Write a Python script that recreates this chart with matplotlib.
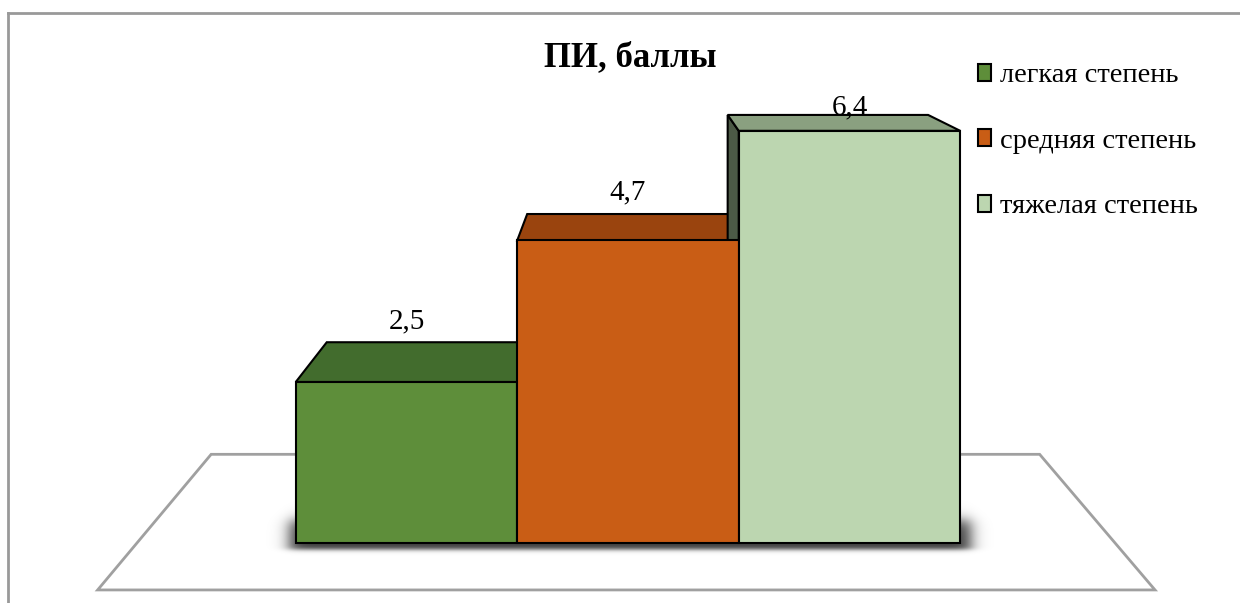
import numpy as np
import matplotlib
matplotlib.use("Agg")
import matplotlib.pyplot as plt
from matplotlib.patches import Polygon, Patch
from matplotlib.lines import Line2D

plt.rcParams["font.family"] = ["Liberation Serif", "DejaVu Serif"]

title = "ПИ, баллы"
categories = ["легкая степень", "средняя степень", "тяжелая степень"]
values = [2.5, 4.7, 6.4]
labels = ["2,5", "4,7", "6,4"]

front_colors = ["#5E8E3A", "#C95D15", "#BCD6B0"]
top_colors = ["#426C2D", "#9A440E", "#8AA080"]
side_colors = ["#2F4E20", "#6E300A", "#4C5A46"]

# pseudo-3D view settings (in data units)
vp = np.array([0.973, 9.0])   # vanishing point
depth = 0.905                 # scale of the back face
floor_front, floor_back = 1.081, 0.847
floor_x = (-1.217, 3.199)


def back(x, y, s=depth):
    return vp[0] + s * (x - vp[0]), vp[1] + s * (y - vp[1])


fig = plt.figure(figsize=(12.4, 6.03), dpi=100)
ax = fig.add_axes([0, 0, 1, 1])
ax.set_xlim(-406.5 / 221.5, (1240 - 406.5) / 221.5)
ax.set_ylim(-(603 - 543) / 64.4, 543 / 64.4)
ax.axis("off")

# chart area border (cut off at right and bottom)
fig.add_artist(Line2D([8 / 1240, 1], [1 - 13 / 603, 1 - 13 / 603],
                      transform=fig.transFigure, color="#999999", lw=2))
fig.add_artist(Line2D([8 / 1240, 8 / 1240], [0, 1 - 13 / 603],
                      transform=fig.transFigure, color="#999999", lw=2))

# floor
x0, x1 = floor_x
floor = [back(x0, 0, floor_front), back(x1, 0, floor_front),
         back(x1, 0, floor_back), back(x0, 0, floor_back)]
ax.add_patch(Polygon(floor, closed=True, facecolor="white",
                     edgecolor="#A0A0A0", lw=2, zorder=1))

# soft shadow under the bars
left = -0.5 - 0.03
right = len(values) - 0.5 + 0.05
gx = np.linspace(-0.8, 2.9, 600)
gy = np.linspace(-0.4, 0.8, 200)
X, Y = np.meshgrid(gx, gy)
fx = 0.5 * (np.tanh((X - left) / 0.04) - np.tanh((X - right) / 0.04))
fy = 0.5 * (np.tanh((Y + 0.1) / 0.04) - np.tanh((Y - 0.35) / 0.12))
alpha = 0.75 * fx * fy
img = np.zeros((len(gy), len(gx), 4))
img[..., 3] = alpha
ax.imshow(img, extent=(gx[0], gx[-1], gy[0], gy[-1]), origin="lower",
          aspect="auto", zorder=2, interpolation="bilinear")

xs = np.arange(len(values))
w = 1.0
# top and side faces
for i, v in enumerate(values):
    xl, xr = xs[i] - w / 2, xs[i] + w / 2
    if xl > vp[0]:
        side = [(xl, 0), (xl, v), back(xl, v), back(xl, 0)]
        ax.add_patch(Polygon(side, closed=True, facecolor=side_colors[i],
                             edgecolor="black", lw=1.5, zorder=3 + i))
    if xr < vp[0]:
        side = [(xr, 0), (xr, v), back(xr, v), back(xr, 0)]
        ax.add_patch(Polygon(side, closed=True, facecolor=side_colors[i],
                             edgecolor="black", lw=1.5, zorder=3 + i))
    top = [(xl, v), (xr, v), back(xr, v), back(xl, v)]
    ax.add_patch(Polygon(top, closed=True, facecolor=top_colors[i],
                         edgecolor="black", lw=1.5, zorder=3 + i))

# front faces
ax.bar(xs, values, width=w, color=front_colors, edgecolor="black",
       linewidth=1.5, zorder=10)

# value labels
for i, v in enumerate(values):
    ty = min(back(xs[i], v)[1] + 0.22, 6.66)
    ax.text(xs[i], ty, labels[i], ha="center", va="baseline",
            fontsize=21, zorder=11)

fig.text(630 / 1240, 1 - 66 / 603, title, ha="center", va="baseline",
         fontsize=25, fontweight="bold")

handles = [Patch(facecolor=c, edgecolor="black", lw=1.5) for c in front_colors]
fig.legend(handles, categories, loc="upper left",
           bbox_to_anchor=(967 / 1240, 1 - 52 / 603), frameon=False,
           fontsize=20.5, handlelength=0.45, handleheight=0.55,
           handletextpad=0.3, labelspacing=1.42, borderaxespad=0)

fig.savefig("out.png", dpi=100)
